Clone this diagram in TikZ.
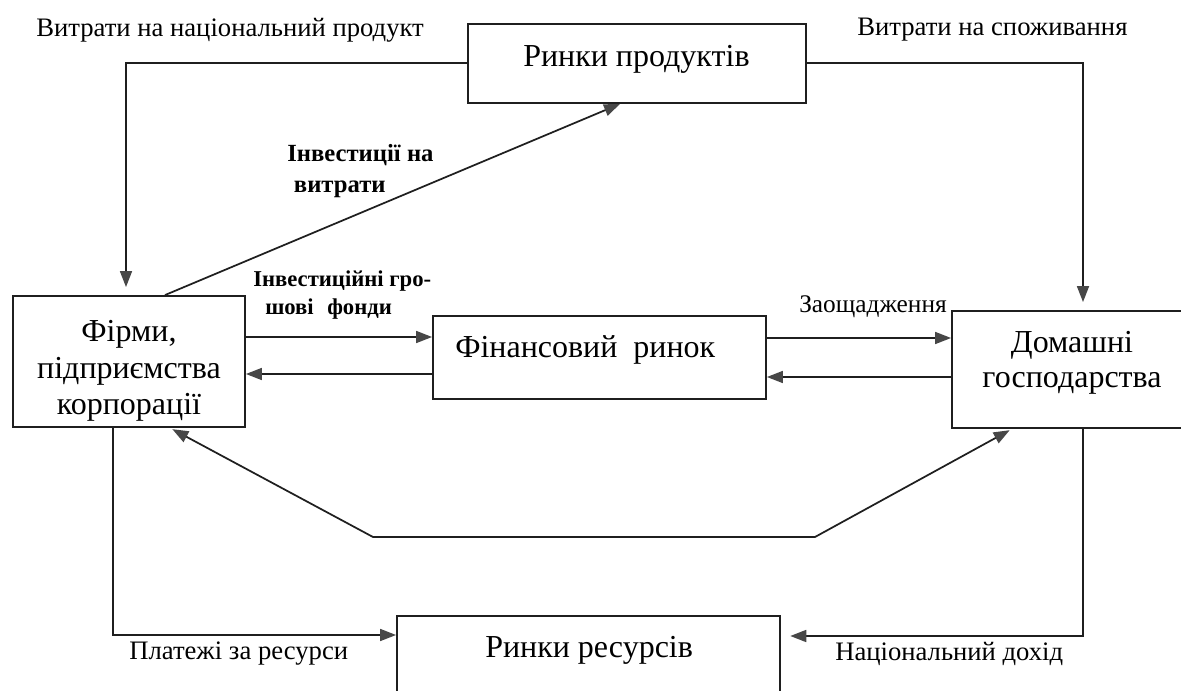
\documentclass[tikz,border=0pt]{standalone}
\usepackage{fontspec}
\setmainfont{Liberation Serif}
\usetikzlibrary{arrows.meta,fit}
\begin{document}
\begin{tikzpicture}[x=0.75pt,y=-0.75pt,
  box/.style={draw=black!88, line width=1.4pt, inner sep=0pt},
  boxtext/.style={font=\fontsize{24}{27.5}\selectfont, align=center, inner sep=0pt},
  lbl/.style={font=\fontsize{20}{23}\selectfont, inner sep=0pt, anchor=west},
  blbl/.style={font=\bfseries, inner sep=0pt, anchor=west, align=left},
  flow/.style={line width=1.3pt, draw=black!88,
    -{Triangle[length=12pt,width=9pt,color=black!72]}},
  twoway/.style={line width=1.3pt, draw=black!88,
    {Triangle[length=12pt,width=9pt,color=black!72]}-{Triangle[length=12pt,width=9pt,color=black!72]}}
]
\useasboundingbox (0,0) rectangle (1181,691);
\fill[white] (0,0) rectangle (1181,691);

% market and sector boxes
\node[box, fit={(468,24) (806,103)}] (prod) {};
\node[box, fit={(13,296) (245,427)}] (firm) {};
\node[box, fit={(433,316) (766,399)}] (fin) {};
\node[box, fit={(952,311) (1214,428)}] (house) {};
\node[box, fit={(397,616) (780,710)}] (res) {};

% box captions
\node[boxtext, anchor=west] (prodT) at (523,59) {Ринки продуктів};
\node[boxtext] (firmT) at (129,371) {Фірми,\\підприємства\\корпорації};
\node[boxtext, anchor=west] (finT) at (455,350) {Фінансовий\hspace{0.5em}ринок};
\node[boxtext, font=\fontsize{24}{26.5}\selectfont] (houseT) at (1072,363) {Домашні\\господарства};
\node[boxtext, anchor=west] (resT) at (485,650) {Ринки ресурсів};

% flow labels
\node[lbl] (natSpend) at (36,30) {Витрати на національний продукт};
\node[lbl] (consSpend) at (857,30) {Витрати на споживання};
\node[blbl, font=\fontsize{18.5}{23}\selectfont\bfseries] (invSpend) at (287,171)
  {Інвестиції на\\\hspace*{5pt}витрати};
\node[blbl, font=\fontsize{17}{21}\selectfont\bfseries] (invFunds) at (253,295)
  {Інвестиційні гро-\\\hspace*{9pt}шові\hspace{0.6em}фонди};
\node[lbl, font=\fontsize{19}{22}\selectfont] (savings) at (799,307) {Заощадження};
\node[lbl] (payRes) at (129,654) {Платежі за ресурси};
\node[lbl] (natInc) at (835,654) {Національний дохід};

% helper points for bends and line heights
\coordinate (topL) at (126,63);
\coordinate (topR) at (1083,63);
\coordinate (invA) at (165,0);
\coordinate (invB) at (620,0);
\coordinate (fundY) at (0,337);
\coordinate (backY) at (0,374);
\coordinate (saveY) at (0,338);
\coordinate (loanY) at (0,377);
\coordinate (lowA) at (373,537);
\coordinate (lowB) at (815,537);
\coordinate (tipL) at (170,0);
\coordinate (tipR) at (1012,0);
\coordinate (firmB) at (113,635);
\coordinate (houseB) at (1083,636);

% spending flows from the product market
\draw[flow, shorten >=6pt] (prod.west |- topL) -- (topL) -- (firm.north -| topL);
\draw[flow, shorten >=6pt] (prod.east |- topR) -- (topR) -- (house.north -| topR);

% investment spending
\draw[flow] (firm.north -| invA) -- (prod.south -| invB);

% financial market flows
\draw[flow] (firm.east |- fundY) -- (fin.west |- fundY);
\draw[flow] (fin.west |- backY) -- (firm.east |- backY);
\draw[flow] (fin.east |- saveY) -- (house.west |- saveY);
\draw[flow] (house.west |- loanY) -- (fin.east |- loanY);

% lower exchange between firms and households
\draw[twoway, shorten <=2pt, shorten >=2pt] (firm.south -| tipL) -- (lowA) -- (lowB) -- (house.south -| tipR);

% resource market flows
\draw[flow] (firm.south -| firmB) -- (firmB) -- (res.west |- firmB);
\draw[flow, shorten >=7pt] (house.south -| houseB) -- (houseB) -- (res.east |- houseB);
\end{tikzpicture}
\end{document}
